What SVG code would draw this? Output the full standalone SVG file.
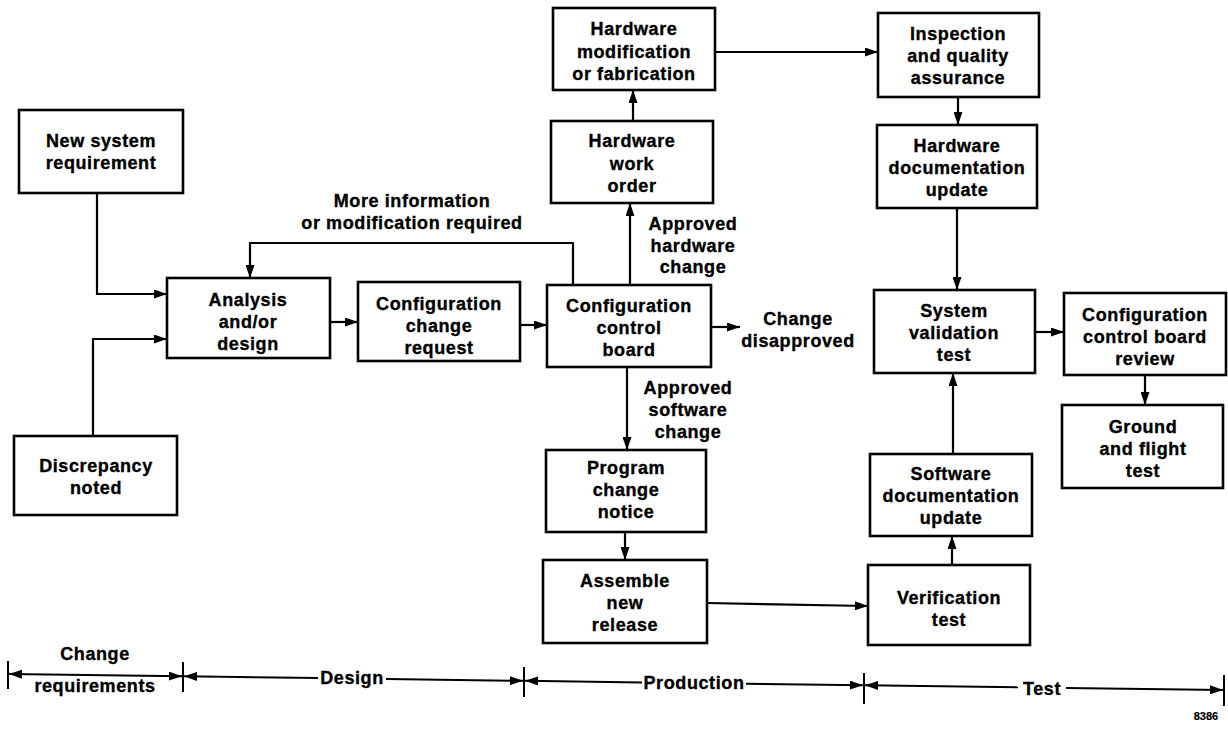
<svg xmlns="http://www.w3.org/2000/svg" width="1228" height="729" viewBox="0 0 1228 729">
<defs>
<marker id="ah" viewBox="0 0 13 9" refX="13" refY="4.5" markerWidth="13" markerHeight="9" markerUnits="userSpaceOnUse" orient="auto-start-reverse">
<path d="M0,0 L13,4.5 L0,9 Z" fill="#000"/>
</marker>
</defs>
<style>
rect.box{fill:#fff;stroke:#000;stroke-width:2.6}
text{font-family:"Liberation Sans",Arial,Helvetica,sans-serif;font-weight:bold;font-size:18px;letter-spacing:0.6px;fill:#000;stroke:#000;stroke-width:0.35;text-anchor:middle}
.c{fill:none;stroke:#000;stroke-width:2.2}
.a{marker-end:url(#ah)}
.s{marker-start:url(#ah)}
.tl{fill:none;stroke:#000;stroke-width:2}
text.small{font-size:11px;letter-spacing:0;stroke-width:0.2}
</style>
<rect width="1228" height="729" fill="#fff"/>

<g id="connectors">
<polyline class="c a" points="97,193 97,294 167,294"/>
<polyline class="c a" points="93,436 93,339 167,339"/>
<polyline class="c a" points="573,285 573,243 250,243 250,278"/>
<line class="c a" x1="330" y1="322" x2="358" y2="322"/>
<line class="c a" x1="520" y1="325" x2="547" y2="325"/>
<line class="c a" x1="630" y1="285" x2="630" y2="203"/>
<line class="c a" x1="633" y1="121" x2="633" y2="90"/>
<line class="c a" x1="715" y1="52" x2="878" y2="52"/>
<line class="c a" x1="958" y1="97" x2="958" y2="125"/>
<line class="c a" x1="957" y1="208" x2="957" y2="290"/>
<line class="c a" x1="1035" y1="332" x2="1064" y2="332"/>
<line class="c a" x1="1145" y1="375" x2="1145" y2="405"/>
<line class="c a" x1="953" y1="454" x2="953" y2="373"/>
<line class="c a" x1="952" y1="565" x2="952" y2="536"/>
<line class="c a" x1="707" y1="603" x2="868" y2="606"/>
<line class="c a" x1="625" y1="532" x2="625" y2="560"/>
<line class="c a" x1="627" y1="367" x2="627" y2="450"/>
<line class="c a" x1="711" y1="327" x2="740" y2="327"/>
<text x="412" y="207">More information</text>
<text x="412" y="229">or modification required</text>
<text x="693" y="230">Approved</text>
<text x="693" y="252">hardware</text>
<text x="693" y="273">change</text>
<text x="798" y="325">Change</text>
<text x="798" y="347">disapproved</text>
<text x="688" y="394">Approved</text>
<text x="688" y="416">software</text>
<text x="688" y="438">change</text>
</g>

<g id="n_newsys"><rect class="box" x="19" y="110" width="164" height="83"/>
<text x="101" y="147">New system</text><text x="101" y="169">requirement</text></g>
<g id="n_discrep"><rect class="box" x="14" y="436" width="163" height="79"/>
<text x="96" y="472">Discrepancy</text><text x="96" y="494">noted</text></g>
<g id="n_analysis"><rect class="box" x="167" y="278" width="163" height="80"/>
<text x="248" y="306">Analysis</text><text x="248" y="328">and/or</text><text x="248" y="350">design</text></g>
<g id="n_ccr"><rect class="box" x="358" y="282" width="162" height="79"/>
<text x="439" y="310">Configuration</text><text x="439" y="332">change</text><text x="439" y="354">request</text></g>
<g id="n_ccb"><rect class="box" x="547" y="285" width="164" height="82"/>
<text x="629" y="312">Configuration</text><text x="629" y="334">control</text><text x="629" y="356">board</text></g>
<g id="n_hwmod"><rect class="box" x="553" y="8" width="162" height="82"/>
<text x="634" y="35">Hardware</text><text x="634" y="58">modification</text><text x="634" y="80">or fabrication</text></g>
<g id="n_hwwo"><rect class="box" x="551" y="121" width="162" height="82"/>
<text x="632" y="147">Hardware</text><text x="632" y="170">work</text><text x="632" y="192">order</text></g>
<g id="n_insp"><rect class="box" x="878" y="13" width="161" height="84"/>
<text x="958" y="40">Inspection</text><text x="958" y="62">and quality</text><text x="958" y="84">assurance</text></g>
<g id="n_hwdoc"><rect class="box" x="877" y="125" width="160" height="83"/>
<text x="957" y="152">Hardware</text><text x="957" y="174">documentation</text><text x="957" y="196">update</text></g>
<g id="n_sysval"><rect class="box" x="874" y="290" width="161" height="83"/>
<text x="954" y="317">System</text><text x="954" y="339">validation</text><text x="954" y="361">test</text></g>
<g id="n_ccbr"><rect class="box" x="1064" y="293" width="162" height="82"/>
<text x="1145" y="321">Configuration</text><text x="1145" y="343">control board</text><text x="1145" y="365">review</text></g>
<g id="n_ground"><rect class="box" x="1062" y="405" width="161" height="83"/>
<text x="1143" y="433">Ground</text><text x="1143" y="455">and flight</text><text x="1143" y="477">test</text></g>
<g id="n_swdoc"><rect class="box" x="870" y="454" width="162" height="82"/>
<text x="951" y="480">Software</text><text x="951" y="502">documentation</text><text x="951" y="524">update</text></g>
<g id="n_verif"><rect class="box" x="868" y="565" width="162" height="80"/>
<text x="949" y="604">Verification</text><text x="949" y="626">test</text></g>
<g id="n_pcn"><rect class="box" x="546" y="450" width="160" height="82"/>
<text x="626" y="474">Program</text><text x="626" y="496">change</text><text x="626" y="518">notice</text></g>
<g id="n_asm"><rect class="box" x="543" y="560" width="164" height="83"/>
<text x="625" y="587">Assemble</text><text x="625" y="609">new</text><text x="625" y="631">release</text></g>

<g id="timeline">
<line class="tl" x1="8" y1="661" x2="8" y2="689"/>
<line class="tl" x1="183" y1="662" x2="183" y2="692"/>
<line class="tl" x1="524" y1="667" x2="524" y2="697"/>
<line class="tl" x1="864" y1="673" x2="864" y2="704"/>
<line class="tl" x1="1224" y1="675" x2="1224" y2="706"/>
<line class="tl s a" x1="9" y1="674" x2="182" y2="676.3"/>
<line class="tl s" x1="184" y1="676.3" x2="318" y2="678.1"/>
<line class="tl a" x1="386" y1="679" x2="523" y2="680.8"/>
<line class="tl s" x1="525" y1="680.8" x2="642" y2="682.4"/>
<line class="tl a" x1="746" y1="683.7" x2="863" y2="685.3"/>
<line class="tl s" x1="865" y1="685.3" x2="1018" y2="687.3"/>
<line class="tl a" x1="1066" y1="688" x2="1223" y2="690"/>
<text x="95" y="660">Change</text>
<text x="95" y="692">requirements</text>
<text x="352" y="684">Design</text>
<text x="694" y="689">Production</text>
<text x="1042" y="695">Test</text>
<text class="small" x="1206" y="720">8386</text>
</g>
</svg>
